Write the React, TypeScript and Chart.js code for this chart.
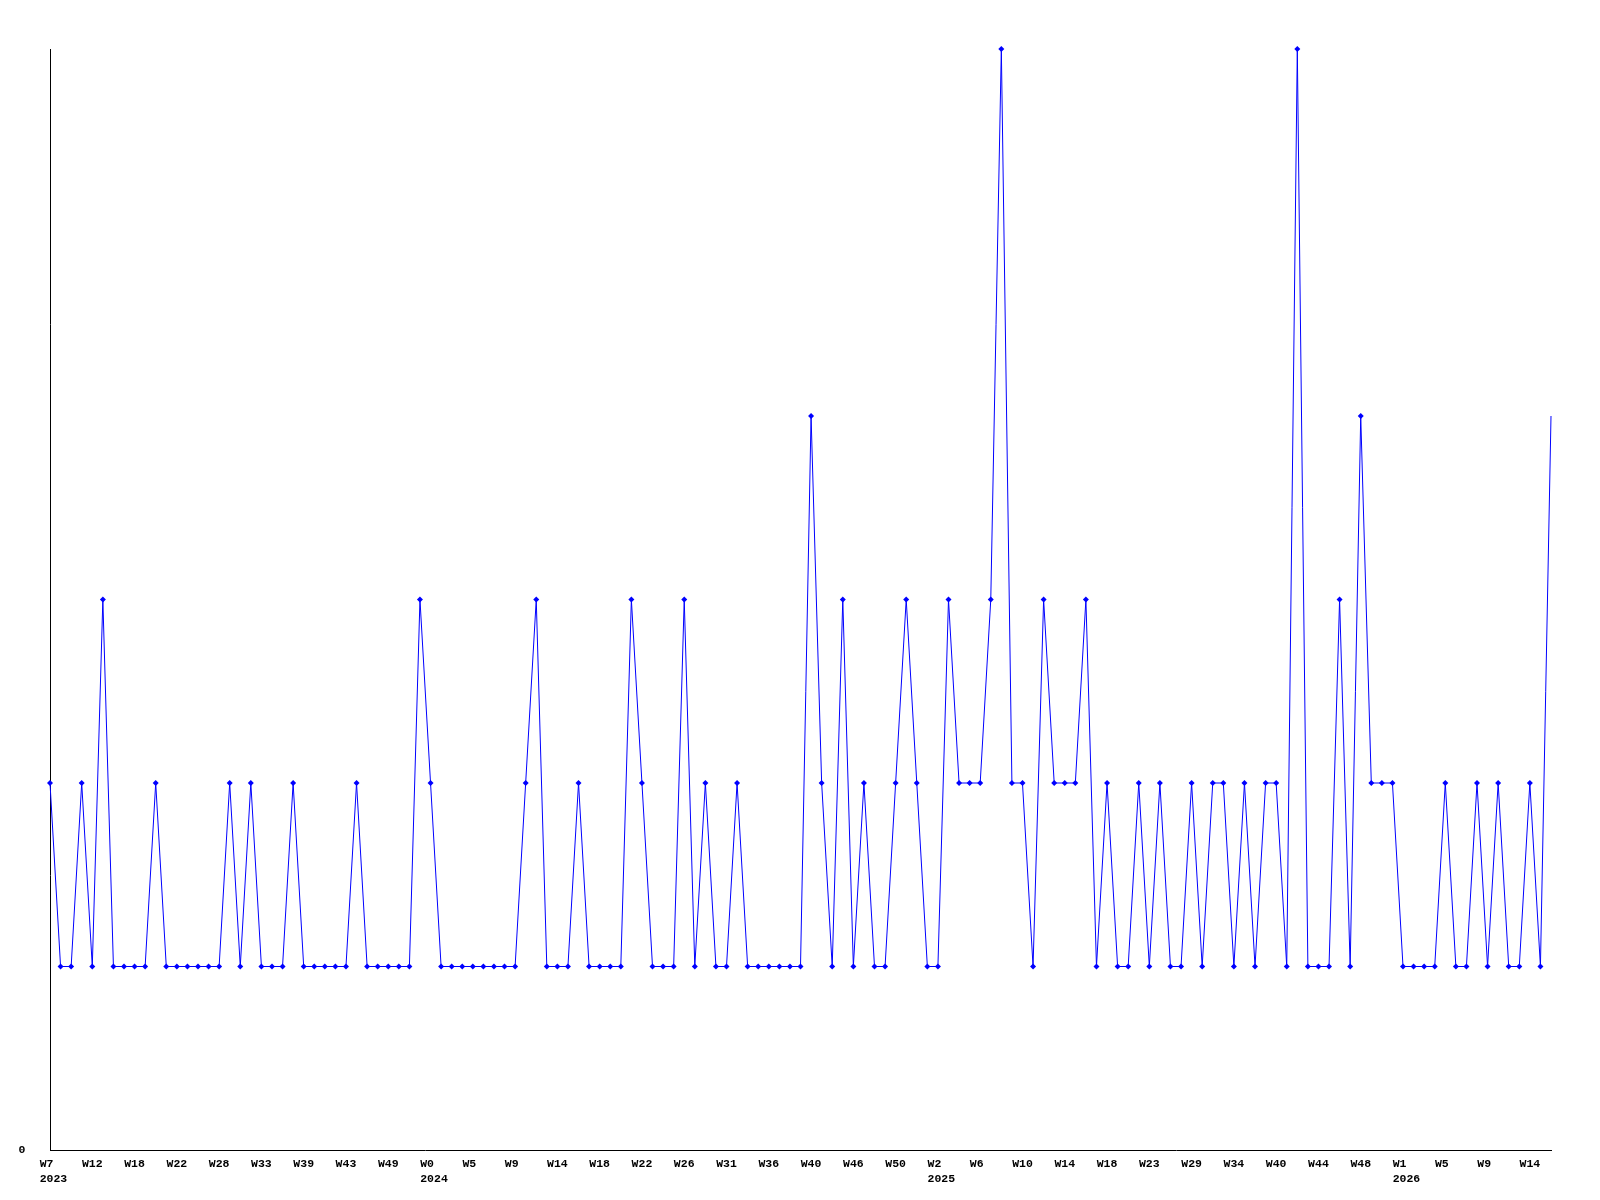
import React, { useEffect, useRef } from "react";
import { Chart, registerables } from "chart.js";

Chart.register(...registerables);

// Weekly counts, one per category (143 weeks with data)
const counts: number[] = [
  2, 1, 1, 2, 1, 3, 1, 1, 1, 1, 2, 1, 1, 1, 1, 1, 1, 2, 1, 2, 1, 1, 1, 2, 1,
  1, 1, 1, 1, 2, 1, 1, 1, 1, 1, 3, 2, 1, 1, 1, 1, 1, 1, 1, 1, 2, 3, 1, 1, 1,
  2, 1, 1, 1, 1, 3, 2, 1, 1, 1, 3, 1, 2, 1, 1, 2, 1, 1, 1, 1, 1, 1, 4, 2, 1,
  3, 1, 2, 1, 1, 2, 3, 2, 1, 1, 3, 2, 2, 2, 3, 6, 2, 2, 1, 3, 2, 2,
  2, 3, 1, 2, 1, 1, 2, 1, 2, 1, 1, 2, 1, 2, 2, 1, 2, 1, 2, 2, 1, 6, 1, 1, 1,
  3, 1, 4, 2, 2, 2, 1, 1, 1, 1, 2, 1, 1, 2, 1, 2, 1, 1, 2, 1, 4,
];

// Tick labels shown on the x axis (every 4th category)
const weekTicks: string[] = [
  "W7", "W12", "W18", "W22", "W28", "W33", "W39", "W43", "W49",
  "W0", "W5", "W9", "W14", "W18", "W22", "W26", "W31", "W36", "W40", "W46", "W50",
  "W2", "W6", "W10", "W14", "W18", "W23", "W29", "W34", "W40", "W44", "W48",
  "W1", "W5", "W9", "W14",
];
const yearTickIndex: number[] = [0, 9, 21, 32];
const yearTickLabels: string[] = ["2023", "2024", "2025", "2026"];
const tickEvery = 4;
const yMax = 6;

export default function App() {
  const ref = useRef<HTMLCanvasElement | null>(null);

  useEffect(() => {
    if (!ref.current) return;
    const labels = counts.map((_, i) => String(i));
    const font = {
      family: "'Liberation Mono', 'DejaVu Sans Mono', monospace",
      size: 11.5,
      weight: "bold" as const,
      lineHeight: 15 / 11.5,
    };
    const last = counts.length - 1;
    const chart = new Chart(ref.current, {
      type: "line",
      data: {
        labels,
        datasets: [
          {
            data: counts,
            borderColor: "#0000ff",
            backgroundColor: "#0000ff",
            borderWidth: 1,
            tension: 0,
            pointStyle: "rectRot",
            pointRadius: (ctx: any) => (ctx.dataIndex === last ? 0 : 3),
            pointBorderWidth: 0,
            pointBackgroundColor: "#0000ff",
            clip: false as any,
          },
        ],
      },
      options: {
        animation: false,
        responsive: false,
        events: [],
        layout: { padding: { top: 49, right: 49, left: 0, bottom: 0 } },
        plugins: {
          legend: { display: false },
          tooltip: { enabled: false },
          title: { display: false },
        },
        scales: {
          x: {
            type: "category",
            offset: false,
            grid: { display: false, drawTicks: false },
            border: { display: true, color: "#000", width: 1 },
            afterFit: (s: any) => {
              s.height = 50;
            },
            ticks: {
              autoSkip: false,
              maxRotation: 0,
              minRotation: 0,
              padding: 6.5,
              color: "#000",
              font,
              callback: (_v: any, index: number) => {
                if (index % tickEvery !== 0) return "";
                const k = index / tickEvery;
                const w = weekTicks[k];
                if (w === undefined) return "";
                const yi = yearTickIndex.indexOf(k);
                return yi >= 0
                  ? [w.padEnd(3, " "), " " + yearTickLabels[yi]]
                  : w.padEnd(3, " ");
              },
            },
          },
          y: {
            min: 0,
            max: yMax,
            grid: { display: false, drawTicks: false },
            border: { display: true, color: "#000", width: 1 },
            afterFit: (s: any) => {
              s.width = 50;
            },
            afterBuildTicks: (s: any) => {
              s.ticks = [{ value: 0 }];
            },
            ticks: {
              padding: 24.5,
              color: "#000",
              font,
              callback: (v: any) => String(v),
            },
          },
        },
      },
    });
    return () => chart.destroy();
  }, []);

  return (
    <div style={{ position: "fixed", left: 0, top: 0, width: 1600, height: 1200, background: "#fff" }}>
      <canvas ref={ref} width={1600} height={1200} style={{ display: "block" }} />
    </div>
  );
}
